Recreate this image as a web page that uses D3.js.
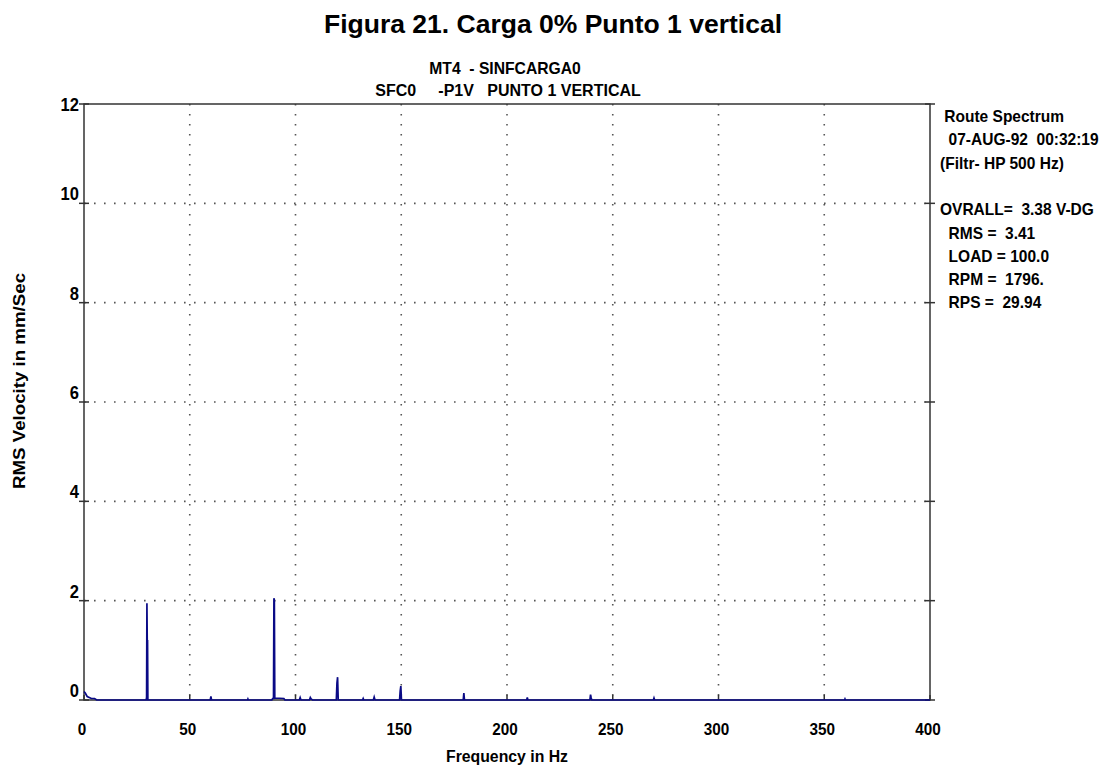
<!DOCTYPE html>
<html>
<head>
<meta charset="utf-8">
<script src="https://cdn.jsdelivr.net/npm/d3@7"></script>
<style>
  body { margin: 0; background: #fff; }
  text { font-family: "Liberation Sans", Arial, sans-serif; font-weight: bold; fill: #000; }
</style>
</head>
<body>
<div id="chart"></div>
<script>
// ticks
const xTicks = [0, 50, 100, 150, 200, 250, 300, 350, 400];
const yTicks = [0, 2, 4, 6, 8, 10, 12];

// spectrum (Hz, mm/s)
const freqHz = [
  0, 0.6, 1.5, 2.5, 3.5, 5, 6,
  29.4, 29.6, 29.75, 29.9, 30.05, 30.2,
  59.7, 60, 60.3,
  77.3, 77.5, 77.7,
  88.8, 89.2, 89.6, 89.8, 90.0, 90.2, 94.5, 95,
  101.8, 102.2, 102.6,
  106.6, 107, 107.4, 108,
  119.3, 119.6, 119.9, 120.2,
  131.7, 132, 132.3,
  136.8, 137.2, 137.6,
  149.2, 149.5, 149.8, 150.1,
  179.3, 179.6, 179.9,
  209.3, 209.6, 209.9,
  239.2, 239.5, 239.8, 240.1,
  269.2, 269.5, 269.8,
  359.6, 359.8, 360,
  400
];
const velocity = [
  0.17, 0.14, 0.07, 0.05, 0.03, 0.03, 0,
  0, 0.06, 1.95, 1.19, 1.19, 0,
  0, 0.07, 0,
  0, 0.02, 0,
  0, 0.03, 0.03, 2.05, 2.0, 0.04, 0.03, 0,
  0, 0.05, 0,
  0, 0.05, 0.02, 0,
  0, 0.34, 0.46, 0,
  0, 0.03, 0,
  0, 0.06, 0,
  0, 0.18, 0.28, 0,
  0, 0.14, 0,
  0, 0.05, 0,
  0, 0.11, 0.04, 0,
  0, 0.04, 0,
  0, 0.02, 0,
  0
];

// header and info panel text
const titleText = "Figura 21. Carga 0% Punto 1 vertical";
const headerLines = ["MT4  - SINFCARGA0", "SFC0     -P1V   PUNTO 1 VERTICAL"];
const infoLines = [
  " Route Spectrum",
  "  07-AUG-92  00:32:19",
  "(Filtr- HP 500 Hz)",
  "",
  "OVRALL=  3.38 V-DG",
  "  RMS =  3.41",
  "  LOAD = 100.0",
  "  RPM =  1796.",
  "  RPS =  29.94"
];

const width = 1108;
const height = 768;
const margin = { top: 104, right: 178, bottom: 68, left: 84 };

const svg = d3.select('#chart')
  .append('svg')
  .attr('width', width)
  .attr('height', height);

const x = d3.scaleLinear()
  .domain([0, 400])
  .range([margin.left, width - margin.right]);

const y = d3.scaleLinear()
  .domain([0, 12])
  .range([height - margin.bottom, margin.top]);

// title
svg.append('text')
  .attr('x', 553)
  .attr('y', 33)
  .attr('text-anchor', 'middle')
  .style('font-size', '26.5px')
  .text(titleText);

// condensed text helper (the source font is a narrow bold)
const narrow = (g, str, px, py, size, anchor, sx) => g.append('text')
  .attr('transform', `translate(${px},${py}) scale(${sx},1)`)
  .attr('text-anchor', anchor)
  .style('font-size', size + 'px')
  .style('white-space', 'pre')
  .attr('xml:space', 'preserve')
  .text(str);

narrow(svg, headerLines[0], 505, 74, 16, 'middle', 0.98);
narrow(svg, headerLines[1], 508, 96, 16, 'middle', 1.0);

// grid
const grid = svg.append('g').attr('stroke', '#555').attr('stroke-width', 1.6).attr('stroke-dasharray', '1.6,8.4');
grid.selectAll('.hg')
  .data(yTicks.filter(d => d > 0 && d < 12))
  .join('line')
  .attr('x1', x(0)).attr('x2', x(400))
  .attr('y1', d => y(d)).attr('y2', d => y(d));
grid.selectAll('.vg')
  .data(xTicks.filter(d => d > 0 && d < 400))
  .join('line')
  .attr('y1', y(12)).attr('y2', y(0))
  .attr('x1', d => x(d)).attr('x2', d => x(d));

// frame
const frame = svg.append('g').attr('stroke', '#333').attr('stroke-width', 1.5).attr('fill', 'none');
frame.append('rect')
  .attr('x', x(0)).attr('y', y(12))
  .attr('width', x(400) - x(0)).attr('height', y(0) - y(12));
frame.selectAll('.lt')
  .data(yTicks)
  .join('line')
  .attr('x1', x(0) - 5).attr('x2', x(0) + 5)
  .attr('y1', d => y(d)).attr('y2', d => y(d));
frame.selectAll('.rt')
  .data(yTicks)
  .join('line')
  .attr('x1', x(400) - 5).attr('x2', x(400) + 5)
  .attr('y1', d => y(d)).attr('y2', d => y(d));
frame.selectAll('.bt')
  .data(xTicks)
  .join('line')
  .attr('x1', d => x(d)).attr('x2', d => x(d))
  .attr('y1', y(0) - 5).attr('y2', y(0));

// spectrum
const spectrum = freqHz.map((f, i) => ({ f: f, v: velocity[i] }));
svg.append('path')
  .datum(spectrum)
  .attr('fill', 'none')
  .attr('stroke', '#0a0a86')
  .attr('stroke-width', 1.7)
  .attr('stroke-linejoin', 'miter')
  .attr('d', d3.line().x(d => x(d.f)).y(d => y(d.v)));

// tick labels
const tickLabels = svg.append('g');
yTicks.forEach(d => {
  narrow(tickLabels, d, x(0) - 5, y(d) + (d === 12 ? 7 : -3), 18, 'end', 0.92);
});
xTicks.forEach(d => {
  narrow(tickLabels, d, x(d) - 2, 735, 17, 'middle', 0.9);
});

// axis titles
narrow(svg, 'Frequency in Hz', 507, 762, 17, 'middle', 0.93);
svg.append('text')
  .attr('transform', `translate(25,381) rotate(-90) scale(1.1,1)`)
  .attr('text-anchor', 'middle')
  .style('font-size', '17px')
  .text('RMS Velocity in mm/Sec');

// info panel
infoLines.forEach((s, i) => {
  if (s) narrow(svg, s, 940, 122 + i * 23.3, 16, 'start', 0.97);
});
</script>
</body>
</html>
